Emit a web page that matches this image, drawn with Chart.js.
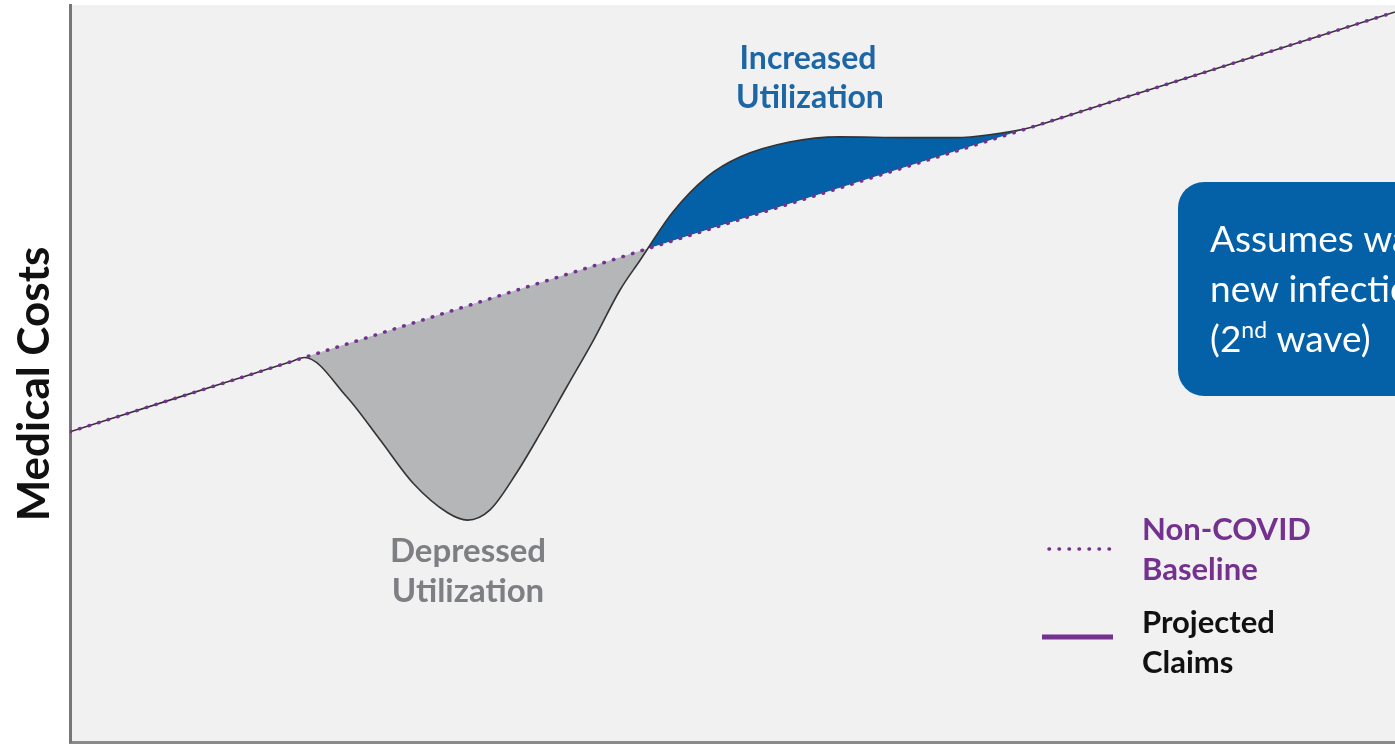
<!DOCTYPE html>
<html>
<head>
<meta charset="utf-8">
<script src="https://cdn.jsdelivr.net/npm/chart.js@4/dist/chart.umd.min.js"></script>
<style>
	body { margin: 0; background: #fff; }
	#wrap { width: 1395px; height: 744px; }
</style>
</head>
<body>
<div id="wrap"><canvas id="cost-chart"></canvas></div>
<script>
// time runs 0..100 (no ticks shown), costs 0..100
const baselineX = [0, 100]
const baselineY = [42.1, 99.05]

const claimsX = [0, 8.0, 14.0, 16.6, 17.7, 20.9, 23.4, 25.9, 28.5, 30.0, 31.7, 33.7, 35.5, 37.5, 39.5, 41.5, 43.0, 45.5, 48.1, 50.6, 54.3, 58.1, 63.2, 66.9, 69.4, 72.5, 76.0, 82.0, 100]
const claimsY = [42.1, 46.66, 50.07, 51.55, 52.18, 46.8, 41.0, 35.1, 31.1, 30.1, 31.5, 36.5, 41.9, 48.2, 54.5, 61.3, 65.3, 71.9, 76.7, 79.4, 81.4, 82.1, 82.0, 82.0, 82.4, 83.39, 85.38, 88.8, 99.05]

const baseline = baselineX.map((x, i) => { return { x: x, y: baselineY[i] } })
const claims = claimsX.map((x, i) => { return { x: x, y: claimsY[i] } })

const purple = '#74318f'
const blue = '#0461a8'

const roundRect = (ctx, x, y, w, h, r) => {
	ctx.beginPath()
	ctx.moveTo(x + r, y)
	ctx.lineTo(x + w - r, y)
	ctx.arcTo(x + w, y, x + w, y + r, r)
	ctx.lineTo(x + w, y + h - r)
	ctx.arcTo(x + w, y + h, x + w - r, y + h, r)
	ctx.lineTo(x + r, y + h)
	ctx.arcTo(x, y + h, x, y + h - r, r)
	ctx.lineTo(x, y + r)
	ctx.arcTo(x, y, x + r, y, r)
	ctx.closePath()
}

const plotBackground = {
	id: 'plotBackground',
	beforeDraw: chart => {
		const { ctx, chartArea: a } = chart
		ctx.save()
		ctx.fillStyle = '#f1f1f1'
		ctx.fillRect(a.left, a.top, a.right - a.left, a.bottom - a.top)
		ctx.restore()
	}
}

const annotations = {
	id: 'annotations',
	afterDraw: chart => {
		const ctx = chart.ctx
		ctx.save()
		ctx.textBaseline = 'alphabetic'

		// axis title
		ctx.save()
		ctx.translate(49, 384)
		ctx.rotate(-Math.PI / 2)
		ctx.textAlign = 'center'
		ctx.fillStyle = '#111'
		ctx.font = 'bold 44px Lato'
		ctx.fillText('Medical Costs', 0, 0)
		ctx.restore()

		// area labels
		ctx.textAlign = 'center'
		ctx.font = 'bold 32px Lato'
		ctx.fillStyle = '#1c66a6'
		ctx.fillText('Increased', 808, 69)
		ctx.fillText('Utilization', 810, 108)
		ctx.font = 'bold 33px Lato'
		ctx.fillStyle = '#7d7f83'
		ctx.fillText('Depressed', 468, 562)
		ctx.fillText('Utilization', 468, 602)

		// callout box
		ctx.fillStyle = blue
		roundRect(ctx, 1178, 182, 260, 214, 26)
		ctx.fill()
		ctx.textAlign = 'left'
		ctx.fillStyle = '#fff'
		ctx.font = '37px Lato'
		ctx.fillText('Assumes wave of', 1210, 252)
		ctx.fillText('new infections', 1210, 302)
		ctx.fillText('(2', 1210, 352)
		let w = ctx.measureText('(2').width
		ctx.font = '23px Lato'
		ctx.fillText('nd', 1210 + w, 338)
		let w2 = ctx.measureText('nd').width
		ctx.font = '37px Lato'
		ctx.fillText(' wave)', 1210 + w + w2, 352)

		// legend
		ctx.lineCap = 'round'
		ctx.strokeStyle = purple
		ctx.lineWidth = 3.5
		ctx.setLineDash([0.5, 9.5])
		ctx.beginPath()
		ctx.moveTo(1049, 549)
		ctx.lineTo(1117, 549)
		ctx.stroke()
		ctx.setLineDash([])
		ctx.lineCap = 'butt'
		ctx.lineWidth = 5
		ctx.beginPath()
		ctx.moveTo(1042, 637)
		ctx.lineTo(1113, 637)
		ctx.stroke()

		ctx.font = 'bold 31px Lato'
		ctx.fillStyle = purple
		ctx.fillText('Non-COVID', 1142, 540)
		ctx.fillText('Baseline', 1142, 580)
		ctx.fillStyle = '#111'
		ctx.fillText('Projected', 1142, 633)
		ctx.fillText('Claims', 1142, 673)
		ctx.restore()
	}
}

const ctxCost = document.getElementById('cost-chart')
const costChart = new Chart(ctxCost, {
	type: 'line',
	data: {
		datasets: [{
			label: 'Non-COVID Baseline',
			data: baseline,
			borderColor: purple,
			borderWidth: 3.5,
			borderDash: [0.5, 9.5],
			borderCapStyle: 'round',
			pointRadius: 0,
			fill: false
		},
		{
			label: 'Projected Claims',
			data: claims,
			borderColor: '#333',
			borderWidth: 1.6,
			cubicInterpolationMode: 'monotone',
			pointRadius: 0,
			fill: {
				target: 0,
				above: blue,
				below: '#b5b6b8'
			}
		}]
	},
	options: {
		responsive: true,
		maintainAspectRatio: false,
		animation: false,
		layout: {
			padding: { left: 70, top: 5, right: 0, bottom: 2 }
		},
		scales: {
			x: {
				type: 'linear',
				min: 0,
				max: 100,
				ticks: { display: false, padding: 0 },
				grid: { display: false, drawTicks: false, tickLength: 0 },
				border: { display: true, color: '#8a8a8a', width: 3 }
			},
			y: {
				min: 0,
				max: 100,
				ticks: { display: false, padding: 0 },
				grid: { display: false, drawTicks: false, tickLength: 0 },
				border: { display: true, color: '#777', width: 3 }
			}
		},
		plugins: {
			legend: { display: false },
			tooltip: { enabled: false }
		}
	},
	plugins: [plotBackground, annotations]
})
</script>
</body>
</html>
